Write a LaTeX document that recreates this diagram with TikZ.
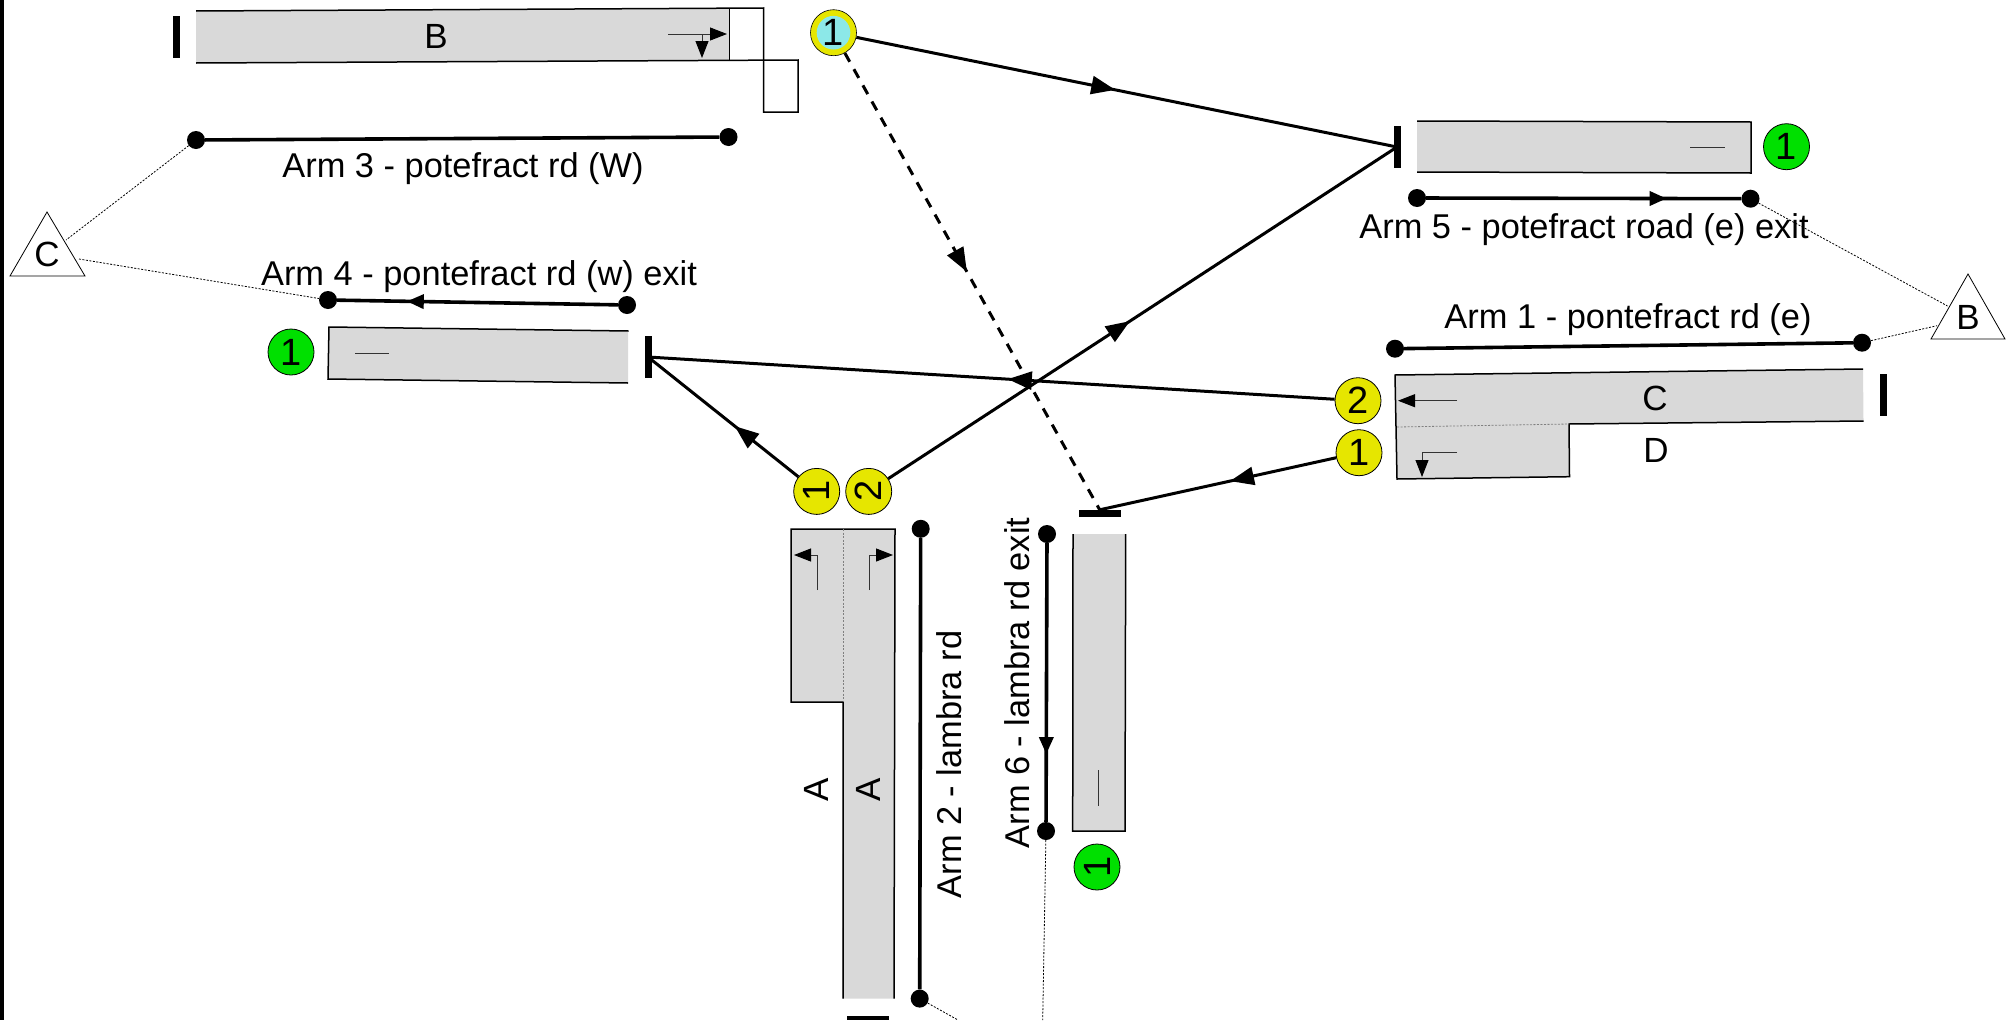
\documentclass[tikz,border=0pt]{standalone}
\usepackage{fontspec}
\setmainfont{Liberation Sans}
\usetikzlibrary{arrows.meta,decorations.markings}
\definecolor{road}{HTML}{D9D9D9}
\definecolor{sigyellow}{HTML}{E6E600}
\definecolor{siggreen}{HTML}{00E000}
\definecolor{sigcyan}{HTML}{8CE8E8}
\tikzset{
  lbl/.style={font=\fontsize{34.4}{40}\selectfont,inner sep=0pt,text=black},
  let/.style={font=\fontsize{35}{40}\selectfont,inner sep=0pt,text=black},
  sig/.style={circle,draw=black,line width=.8pt,minimum size=46pt,inner sep=0pt,font=\fontsize{38}{42}\selectfont},
  yel/.style={sig,fill=sigyellow},
  grn/.style={sig,fill=siggreen},
  dotn/.style={circle,fill=black,minimum size=18pt,inner sep=0pt},
  barh/.style={rectangle,fill=black,minimum width=42pt,minimum height=7pt,inner sep=0pt},
  barv/.style={rectangle,fill=black,minimum width=7pt,minimum height=42pt,inner sep=0pt},
  tri/.style={draw=black,line width=.8pt,fill=white},
  edgeb/.style={draw=black,line width=1.5pt},
  thinb/.style={draw=black,line width=1pt},
  armln/.style={draw=black,line width=3.6pt},
  conn/.style={draw=black,line width=3pt},
  leader/.style={draw=black,line width=.8pt,dash pattern=on 2pt off 1.5pt},
  innerdot/.style={draw=black!50,line width=.8pt,dash pattern=on 2pt off 1.5pt},
  movel/.style={draw=black!80,line width=1pt},
  midarr/.style={postaction={decorate,decoration={markings,mark=at position #1 with {\arrow{Triangle[length=24pt,width=18pt]}}}}},
  armarr/.style={postaction={decorate,decoration={markings,mark=at position #1 with {\arrow{Triangle[length=17pt,width=14pt]}}}}},
  tip/.style={-{Triangle[length=17pt,width=13pt,black]}}
}
\begin{document}
\begin{tikzpicture}[x=1pt,y=-1pt]
\useasboundingbox (0,0) rectangle (2015,1020);
\fill[black] (0,0) rectangle (4,1020);

% Arm 3 approach road, lane B
\fill[road] (196,11) -- (729,8) -- (729,60) -- (196,63) -- cycle;
\path[edgeb] (196,11) -- (763.5,8) -- (763.5,60);
\path[edgeb] (196,63) -- (798,60) -- (798,112) -- (763.5,112) -- (763.5,60);
\path[thinb] (729,8) -- (729,60);
\node[let] (labB) at (436,36) {B};
\path[movel,tip] (668,34) -- (727,34);
\path[movel,tip] (702,34) -- (702,58);
\node[barv] (bar3) at (176,37) {};

% Arm 3 line
\node[dotn] (a3l) at (196,140) {};
\node[dotn] (a3r) at (728.5,137) {};
\path[armln] (a3l) -- (a3r);
\node[lbl] (lab3) at (463,169) {Arm 3 - potefract rd (W)};

% Triangle C
\path[tri] (47,212) -- (85,276) -- (10,276) -- cycle;
\node[let] (labTC) at (47,254) {C};
\coordinate (tc1) at (66,240);
\coordinate (tc2) at (79,259);

% Arm 4
\node[dotn] (a4l) at (328,300) {};
\node[dotn] (a4r) at (627,305) {};
\path[armln,armarr=.752] (a4r) -- (a4l);
\node[lbl] (lab4) at (479,277) {Arm 4 - pontefract rd (w) exit};
\path[leader] (a3l) -- (tc1);
\path[leader] (tc2) -- (a4l);
\fill[road] (329,327) -- (628,331) -- (628,383) -- (328,379) -- cycle;
\path[edgeb] (628.5,331) -- (329,327) -- (328,379) -- (628,383);
\path[movel] (355,353) -- (389,353);
\node[grn] (g4) at (291,352) {1};
\node[barv] (bar4) at (648,357) {};

% Arm 5
\fill[road] (1417,121) -- (1751,122) -- (1751,173) -- (1417,172) -- cycle;
\path[edgeb] (1417,121) -- (1751,122) -- (1751,173) -- (1417,172);
\path[movel] (1690,147) -- (1725,147);
\node[grn] (g5) at (1786.5,146.7) {1};
\node[barv] (bar5) at (1397,147) {};
\node[dotn] (a5l) at (1417,198) {};
\node[dotn] (a5r) at (1750.5,198.7) {};
\path[armln,armarr=.763] (a5l) -- (a5r);
\node[lbl] (lab5) at (1584,230) {Arm 5 - potefract road (e) exit};

% Triangle B
\path[tri] (1968,274) -- (2005,339) -- (1931,339) -- cycle;
\node[let] (labTB) at (1968,317) {B};
\coordinate (tb1) at (1947.5,306);
\coordinate (tb2) at (1937,325.7);

% Arm 1
\node[dotn] (a1l) at (1395,348.7) {};
\node[dotn] (a1r) at (1862,342.7) {};
\path[armln] (a1l) -- (a1r);
\node[lbl] (lab1) at (1628,320) {Arm 1 - pontefract rd (e)};
\path[leader] (a5r) -- (tb1);
\path[leader] (a1r) -- (tb2);
\fill[road] (1395,375) -- (1863,369) -- (1863.5,421) -- (1569,424) -- (1569.5,476.7) -- (1397,479) -- cycle;
\path[edgeb] (1863,369) -- (1395,375) -- (1397,479) -- (1569.5,476.7) -- (1569,424) -- (1863.5,421);
\path[innerdot] (1397,427) -- (1569,424);
\node[let] (labC) at (1655,398) {C};
\node[let] (labD) at (1656,450) {D};
\path[movel,tip] (1457,400.7) -- (1398,400.7);
\path[movel,tip] (1457,452) -- (1422,452) -- (1422,477);
\node[barv] (bar1) at (1883,395) {};
\node[yel] (y12) at (1358,400.7) {2};
\node[yel] (y11) at (1359,452.7) {1};

% Arm 2
\fill[road] (791,529) -- (895,529) -- (894,998.6) -- (842,998.6) -- (843,702) -- (791,702) -- cycle;
\path[edgeb] (843,998.6) -- (843,702) -- (791,702) -- (791,529) -- (895,529) -- (894,998.6);
\path[innerdot] (843,529) -- (843,702);
\path[movel,tip] (817,590) -- (817,555) -- (794,555);
\path[movel,tip] (869,590) -- (869,555) -- (893,555);
\node[let,rotate=90] (labA1) at (816,790) {A};
\node[let,rotate=90] (labA2) at (868,790) {A};
\node[yel] (y21) at (816.7,491.4) {\rotatebox{90}{1}};
\node[yel] (y22) at (868.7,491.4) {\rotatebox{90}{2}};
\node[barh,minimum height=4pt] (bar2) at (868,1018) {};
\node[dotn] (a2t) at (920.7,528.8) {};
\node[dotn] (a2b) at (919.7,998.6) {};
\path[armln] (a2t) -- (a2b);
\node[lbl,rotate=90] (lab2) at (949,764.5) {Arm 2 - lambra rd};
\coordinate (off2) at (958,1020);
\path[leader] (a2b) -- (off2);

% Arm 6
\fill[road] (1073,534) -- (1125.7,534) -- (1125,831) -- (1072.7,831) -- cycle;
\path[edgeb] (1073,534) -- (1072.7,831) -- (1125,831) -- (1125.7,534);
\path[movel] (1098.7,770) -- (1098.7,805.5);
\node[grn] (g6) at (1097,867) {\rotatebox{90}{1}};
\node[barh] (bar6) at (1099.7,513.5) {};
\node[dotn] (a6t) at (1047,534) {};
\node[dotn] (a6b) at (1046,831) {};
\path[armln,armarr=.757] (a6t) -- (a6b);
\node[lbl,rotate=90] (lab6) at (1016.7,683) {Arm 6 - lambra rd exit};
\coordinate (off6) at (1042.7,1020);
\path[leader] (a6b) -- (off6);

% Phase 1 circle
\node[circle,fill=sigyellow,draw=black,line width=.6pt,minimum size=46pt,inner sep=0pt] (blueo) at (833.5,32.7) {};
\node[circle,fill=sigcyan,minimum size=32pt,inner sep=0pt,font=\fontsize{38}{42}\selectfont] (bluei) at (833.5,32.7) {1};

% Connectors
\path[conn,midarr=.479] (blueo) -- (bar5.center);
\path[conn,midarr=.475] (y22) -- (bar5.center);
\path[conn,midarr=.423] (y21) -- (bar4.center);
\path[conn,midarr=.476] (y12) -- (bar4.center);
\path[conn,midarr=.449] (y11) -- (bar6.north);
\path[conn,dash pattern=on 10pt off 8.5pt,midarr=.479] (blueo) -- (bar6.north);
\end{tikzpicture}
\end{document}
